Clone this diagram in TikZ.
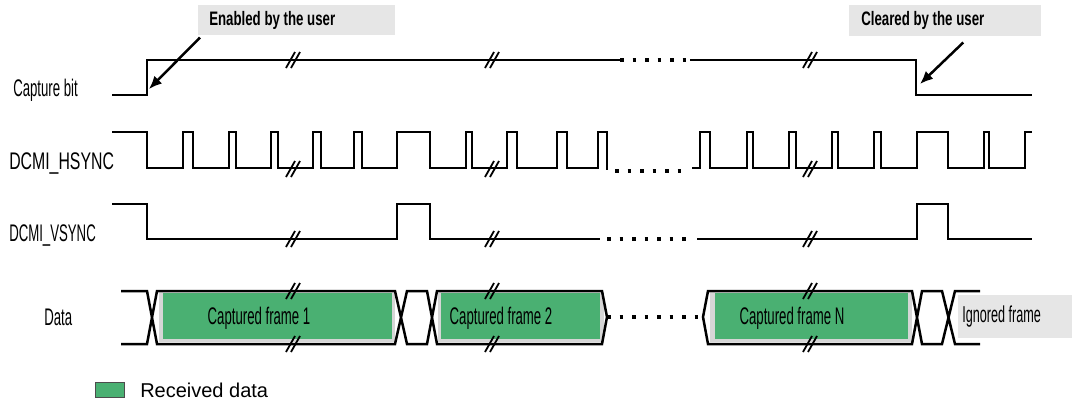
\documentclass[tikz,border=0pt]{standalone}
\usepackage{fontspec}
\setmainfont{Liberation Sans}
\newfontfamily\etroite{Liberation Sans}[FakeStretch=0.55]
\newfontfamily\etroitelarge{Liberation Sans}[FakeStretch=0.66]
\newfontfamily\etroitegras{Liberation Sans}[FakeStretch=0.68]
\usetikzlibrary{arrows.meta}
\definecolor{vertrecu}{RGB}{74,176,114}
\definecolor{grisombre}{RGB}{214,214,214}
\definecolor{grisbulle}{RGB}{230,230,230}

\begin{document}
\begin{tikzpicture}[x=1pt, y=-1pt, line width=2.5pt,
    pointille/.style={dash pattern=on 3.5pt off 9pt, line width=3.5pt},
    bulle/.style={fill=grisbulle, anchor=north west, minimum height=30pt, align=flush left,
        font={\etroitegras\bfseries\fontsize{19.5}{20}\selectfont}},
    nom/.style={anchor=base west, inner sep=0pt, font={\etroite\fontsize{24}{24}\selectfont}},
    trame/.style={anchor=base, inner sep=0pt, font={\etroite\fontsize{24}{24}\selectfont}},
    fleche/.style={-{Latex[length=13pt,width=11pt]}, line width=2.5pt},
    coupure/.pic={\draw[line width=1.8pt] (-7,8) -- (2,-8) (-2,8) -- (7,-8);}]
    \useasboundingbox (0,0) rectangle (1072,400);

    % Noms des signaux
    \node[nom] (capture) at (12,96) {Capture bit};
    \node[nom, font={\etroitelarge\fontsize{24}{24}\selectfont}] (hsync) at (8,169) {DCMI\_HSYNC};
    \node[nom] (vsync) at (8,241) {DCMI\_VSYNC};
    \node[nom] (donnees) at (43,325) {Data};

    % Bit de capture
    \draw (112,95) -| (147,60) -- (620,60);
    \draw[pointille] (620,60) -- (690,60);
    \draw (690,60) -| (916,95) -- (1032,95);

    % HSYNC
    \draw (112,132) -| (147,168) -| (183,132) -| (193,168) -| (229,132) -| (236,168)
        -| (271,132) -| (278,168) -| (313,132) -| (321,168) -| (354,132) -| (362,168)
        -| (397,132) -| (430,168) -| (466,132) -| (472,168) -| (507,132) -| (517,168)
        -| (557,132) -| (567,168) -| (598,132) -| (607,170);
    \draw[pointille] (615,171) -- (690,171);
    \draw (692,168) -| (700,132) -| (710,168) -| (747,132) -| (753,168) -| (789,132)
        -| (796,168) -| (832,132) -| (838,168) -| (874,132) -| (881,168) -| (917,132)
        -| (948,168) -| (984,132) -| (989,168) -| (1025,132) -- (1032,132);

    % VSYNC
    \draw (112,204) -| (147,239) -| (397,204) -| (430,239) -- (600,239);
    \draw[pointille] (607,239) -- (690,239);
    \draw (697,239) -| (917,204) -| (948,239) -- (1032,239);

    % Trames recues (fond vert avec ombre grise)
    \fill[grisombre] (159,293) rectangle (395,342);
    \fill[vertrecu] (163,293) rectangle (392,339);
    \fill[grisombre] (438,293) rectangle (604,342);
    \fill[vertrecu] (441,293) rectangle (600,339);
    \fill[grisombre] (710,293) rectangle (912,342);
    \fill[vertrecu] (715,293) rectangle (908,339);

    % Bus de donnees
    \draw (121,291) -- (147,291) -- (157,344) -- (395,344) -- (407,291) -- (427,291)
        -- (437,344) -- (602,344) -- (607,317) -- (602,291) -- (437,291) -- (427,344)
        -- (407,344) -- (395,291) -- (157,291) -- (147,344) -- (121,344);
    \draw[pointille] (607,317) -- (703,317);
    \draw (980,291) -- (955,291) -- (942,344) -- (922,344) -- (912,291) -- (708,291)
        -- (703,317) -- (708,344) -- (912,344) -- (922,291) -- (942,291) -- (955,344)
        -- (980,344);

    \node[trame] (trame1) at (259,324) {Captured frame 1};
    \node[trame] (trame2) at (501,324) {Captured frame 2};
    \node[trame] (trameN) at (792,324) {Captured frame N};
    \node[fill=grisbulle, anchor=west, minimum width=115pt, minimum height=43pt,
        text width=107pt, inner xsep=4pt, align=flush left,
        font={\etroite\fontsize{23}{23}\selectfont}] (ignoree) at (957,316.5) {Ignored frame};

    % Coupures //
    \foreach \x in {293,492,810} {
        \pic at (\x,60) {coupure};
        \pic at (\x,169) {coupure};
        \pic at (\x,239) {coupure};
        \pic at (\x,291) {coupure};
        \pic at (\x,344) {coupure};
    }

    % Bulles et fleches
    \node[bulle, text width=175pt, inner xsep=11pt] (active) at (197,4) {Enabled by the user};
    \node[bulle, text width=168pt, inner xsep=12pt, minimum height=31pt] (efface) at (848,4) {Cleared by the user};
    \coordinate (montee) at (149,89);
    \coordinate (descente) at (920,84);
    \draw[fleche] ([xshift=3pt,yshift=-1pt]active.south west) -- (montee);
    \draw[fleche] ([xshift=18pt,yshift=-5pt]efface.south) -- (descente);

    % Legende
    \node[fill=vertrecu, draw=black!70, line width=1pt, minimum width=29pt, minimum height=15pt,
        inner sep=0pt, anchor=north west] (legende) at (95,382) {};
    \node[anchor=base west, inner sep=0pt, font={\fontsize{20}{20}\selectfont}] (legtexte) at (139,397) {Received data};
\end{tikzpicture}
\end{document}
